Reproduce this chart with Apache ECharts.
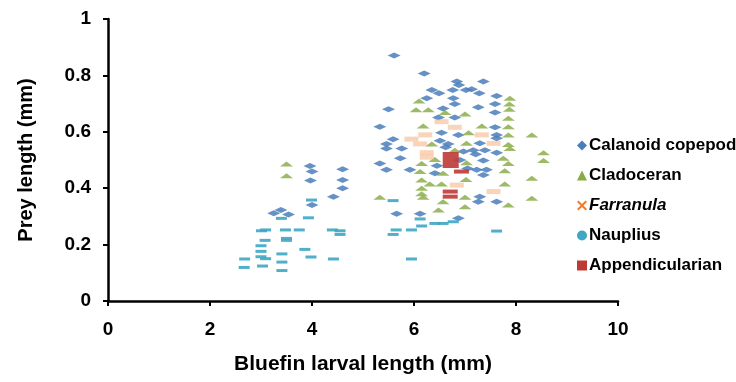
<!DOCTYPE html>
<html>
<head>
<meta charset="utf-8">
<style>
  html, body { margin: 0; padding: 0; background: #fff; }
  #chart { width: 736px; height: 382px; }
</style>
<script src="https://cdn.jsdelivr.net/npm/echarts@6/dist/echarts.min.js"></script>
</head>
<body>
<div id="chart"></div>
<script>
// tick values
const xTicks = [0, 2, 4, 6, 8, 10];
const yTicks = [0, 0.2, 0.4, 0.6, 0.8, 1];

// [bluefin larval length, prey length] per prey type
const calanoid = [
  [3.25, 0.311], [3.39, 0.323], [3.54, 0.307], [3.97, 0.427], [3.96, 0.479], [4.0, 0.459],
  [4.0, 0.34], [4.42, 0.37], [4.6, 0.40], [4.6, 0.429], [4.6, 0.467],
  [5.61, 0.871], [6.20, 0.807], [6.84, 0.778], [6.88, 0.766], [7.36, 0.778], [6.35, 0.748],
  [6.49, 0.737], [6.76, 0.748], [7.02, 0.748], [7.13, 0.751], [7.28, 0.737], [7.62, 0.727],
  [6.77, 0.719], [6.25, 0.719], [6.80, 0.699], [7.59, 0.699], [5.50, 0.680], [6.57, 0.683],
  [7.26, 0.687], [7.59, 0.668], [6.48, 0.651], [6.80, 0.651], [5.33, 0.618], [6.54, 0.597],
  [6.87, 0.589], [7.59, 0.616], [5.59, 0.574], [5.46, 0.557], [6.51, 0.568], [6.67, 0.557],
  [5.46, 0.541], [5.76, 0.541], [6.97, 0.530], [7.62, 0.589], [7.62, 0.577], [7.29, 0.559],
  [7.16, 0.535], [7.39, 0.535], [7.62, 0.526], [7.21, 0.52], [5.73, 0.506], [5.33, 0.488],
  [7.36, 0.498], [5.46, 0.465], [5.92, 0.465], [6.41, 0.453], [7.23, 0.465], [7.42, 0.465],
  [7.36, 0.447], [7.29, 0.37], [7.26, 0.352], [7.62, 0.352], [5.66, 0.309], [6.12, 0.309],
  [6.87, 0.293], [6.62, 0.545], [6.9, 0.50], [6.45, 0.48], [7.05, 0.47]
];
const cladoceran = [
  [3.50, 0.486], [3.50, 0.444], [6.10, 0.709], [6.04, 0.678], [6.28, 0.678], [6.61, 0.668],
  [7.0, 0.663], [6.18, 0.621], [7.88, 0.719], [7.87, 0.699], [7.87, 0.680], [7.85, 0.648],
  [7.33, 0.621], [7.85, 0.618], [7.07, 0.597], [7.85, 0.589], [8.31, 0.589], [6.35, 0.557],
  [7.03, 0.559], [7.85, 0.555], [7.88, 0.541], [6.80, 0.535], [8.54, 0.526], [6.41, 0.502],
  [7.75, 0.506], [6.15, 0.488], [7.03, 0.490], [7.85, 0.488], [8.54, 0.498], [6.12, 0.459],
  [6.57, 0.453], [7.78, 0.462], [7.02, 0.431], [6.15, 0.429], [8.31, 0.435], [6.31, 0.415],
  [6.54, 0.415], [7.78, 0.415], [6.15, 0.40], [6.15, 0.38], [6.18, 0.368], [5.33, 0.368],
  [7.0, 0.368], [8.31, 0.364], [6.57, 0.352], [7.85, 0.340], [7.0, 0.334], [6.48, 0.323]
];
const farranula = [
  [6.54, 0.636], [6.80, 0.616], [5.95, 0.574], [6.22, 0.589], [6.12, 0.557], [6.25, 0.526],
  [6.25, 0.51], [7.33, 0.589], [7.56, 0.559], [6.84, 0.411], [7.56, 0.388]
];
const nauplius = [
  [2.68, 0.149], [2.67, 0.119], [3.01, 0.249], [3.09, 0.252], [3.08, 0.215], [3.0, 0.196],
  [3.0, 0.176], [3.0, 0.157], [3.09, 0.150], [3.03, 0.124], [3.40, 0.293], [3.93, 0.295],
  [3.48, 0.252], [3.75, 0.252], [3.50, 0.215], [3.50, 0.222], [3.41, 0.167], [3.41, 0.138],
  [3.41, 0.108], [3.86, 0.183], [3.98, 0.156], [4.42, 0.149], [4.40, 0.252], [4.55, 0.249],
  [4.55, 0.236], [3.99, 0.358], [5.59, 0.356], [6.12, 0.291], [6.77, 0.281], [6.41, 0.275],
  [6.57, 0.275], [6.15, 0.266], [5.65, 0.252], [5.95, 0.252], [7.62, 0.248], [5.59, 0.236],
  [5.95, 0.149]
];
const appendicularian = [[6.72, 0.50], [6.93, 0.459], [6.71, 0.388], [6.71, 0.37]];

const seriesNames = ["Calanoid copepod", "Cladoceran", "Farranula", "Nauplius", "Appendicularian"];

const chart = echarts.init(document.getElementById("chart"), null, { renderer: "canvas" });
const font = "Liberation Sans, Arial, sans-serif";
const crossIcon = "path://M0,1.4L1.4,0L5,3.6L8.6,0L10,1.4L6.4,5L10,8.6L8.6,10L5,6.4L1.4,10L0,8.6L3.6,5Z";

const option = {
  animation: false,
  backgroundColor: "#fff",
  grid: { left: 108, right: 118, top: 19, bottom: 81 },
  xAxis: {
    type: "value",
    min: xTicks[0],
    max: xTicks[xTicks.length - 1],
    interval: xTicks[1] - xTicks[0],
    name: "Bluefin larval length (mm)",
    nameLocation: "middle",
    nameGap: 53,
    nameTextStyle: { fontFamily: font, fontWeight: "bold", fontSize: 21, color: "#000" },
    axisLine: { lineStyle: { color: "#000", width: 2.5 } },
    axisTick: { length: 5, lineStyle: { color: "#000", width: 2 } },
    axisLabel: { fontFamily: font, fontWeight: "bold", fontSize: 19, color: "#000", margin: 19 },
    splitLine: { show: false }
  },
  yAxis: {
    type: "value",
    min: yTicks[0],
    max: yTicks[yTicks.length - 1],
    interval: yTicks[1] - yTicks[0],
    name: "Prey length (mm)",
    nameLocation: "middle",
    nameRotate: 90,
    nameGap: 72,
    nameTextStyle: { fontFamily: font, fontWeight: "bold", fontSize: 20, color: "#000" },
    axisLine: { show: true, lineStyle: { color: "#000", width: 2.5 } },
    axisTick: { show: true, length: 5, lineStyle: { color: "#000", width: 2 } },
    axisLabel: { fontFamily: font, fontWeight: "bold", fontSize: 19, color: "#000", margin: 17 },
    splitLine: { show: false }
  },
  legend: {
    orient: "vertical",
    left: 572,
    top: 132,
    itemWidth: 10,
    itemHeight: 10,
    itemGap: 13,
    textStyle: {
      fontFamily: font, fontWeight: "bold", fontSize: 17, color: "#000", padding: [0, 0, 0, -3],
      rich: { it: { fontFamily: font, fontWeight: "bold", fontStyle: "italic", fontSize: 17, color: "#000" } }
    },
    formatter: (name) => (name === "Farranula" ? "{it|" + name + "}" : name),
    data: [
      { name: seriesNames[0], icon: "diamond", itemStyle: { color: "#4a7ebb", opacity: 1 } },
      { name: seriesNames[1], icon: "triangle", itemStyle: { color: "#8aaa45", opacity: 1 } },
      { name: seriesNames[2], icon: crossIcon, itemStyle: { color: "#f07b26", opacity: 1 } },
      { name: seriesNames[3], icon: "circle", itemStyle: { color: "#3fa6c4", opacity: 1 } },
      { name: seriesNames[4], icon: "rect", itemStyle: { color: "#be3a35", opacity: 1 } }
    ]
  },
  series: [
    {
      name: seriesNames[0], type: "scatter", data: calanoid,
      symbol: "diamond", symbolSize: [13, 6],
      itemStyle: { color: "#4a7ebb", opacity: 0.85 }
    },
    {
      name: seriesNames[1], type: "scatter", data: cladoceran,
      symbol: "triangle", symbolSize: [13, 5],
      itemStyle: { color: "#8cae4b", opacity: 0.85 }
    },
    {
      name: seriesNames[2], type: "scatter", data: farranula,
      symbol: "rect", symbolSize: [14, 5],
      itemStyle: { color: "#f5b78a", opacity: 0.6 }
    },
    {
      name: seriesNames[3], type: "scatter", data: nauplius,
      symbol: "rect", symbolSize: [11, 3],
      itemStyle: { color: "#3fa6c4", opacity: 0.9 }
    },
    {
      name: seriesNames[4], type: "scatter", data: appendicularian,
      symbol: "rect",
      symbolSize: (val, params) => (params.dataIndex === 0 ? 16 : [15, 4]),
      itemStyle: { color: "#be3a35", opacity: 0.9 }
    }
  ]
};

chart.setOption(option);
</script>
</body>
</html>
